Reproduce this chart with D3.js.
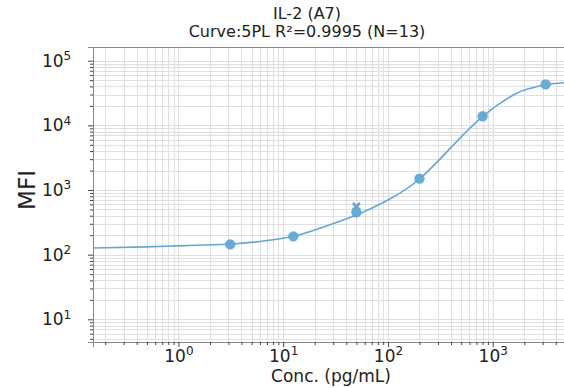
<!DOCTYPE html>
<html><head><meta charset="utf-8">
<script src="https://cdn.jsdelivr.net/npm/d3@7"></script>
<style>
html,body{margin:0;padding:0;background:#fff;}
svg{display:block;font-family:"DejaVu Sans",sans-serif;}
</style></head>
<body>
<svg id="c" width="564" height="388"></svg>
<script>
// ---- data ----
const titleLines = ["IL-2 (A7)", "Curve:5PL R\u00B2=0.9995 (N=13)"];
const xLabel = "Conc. (pg/mL)";
const yLabel = "MFI";
const pointConc = [3.125, 12.5, 50, 200, 800, 3200];
const pointMFI  = [144, 192, 451, 1500, 13800, 43000];
const outlierConc = [50];
const outlierMFI  = [555];
const curveConc = [0.153, 0.5, 1.13, 3.2, 6, 12.5, 25, 50, 100, 200, 420, 800, 1570, 2270, 3300, 4800];
const curveMFI  = [127, 132, 138, 146, 160, 192, 272, 410, 700, 1480, 4950, 13700, 29500, 37300, 42800, 45700];
const xTickExp = [0, 1, 2, 3];
const yTickExp = [1, 2, 3, 4, 5];

const svg = d3.select("#c");
const L = 93, R = 564, T = 47, B = 342;
const col = "#62a8d4";

const x = d3.scaleLog().domain([0.153, 4790]).range([L, R]);
const y = d3.scaleLog().domain([Math.pow(10, 0.649), Math.pow(10, 5.212)]).range([B, T]);

function minors(lo, hi) {
  const out = [];
  for (let e = Math.floor(Math.log10(lo)); e <= Math.ceil(Math.log10(hi)); e++) {
    for (let m = 1; m <= 9; m++) {
      const v = m * Math.pow(10, e);
      if (v >= lo && v <= hi) out.push(v);
    }
  }
  return out;
}
const xAll = minors(x.domain()[0], x.domain()[1]);
const yAll = minors(y.domain()[0], y.domain()[1]);

const plot = svg.append("g");
plot.append("defs").append("clipPath").attr("id", "clip")
  .append("rect").attr("x", L).attr("y", T).attr("width", R - L).attr("height", B - T);

// grid
const grid = plot.append("g").attr("stroke", "#e0e0e0").attr("stroke-width", 1);
grid.selectAll(".gx").data(xAll).join("line")
  .attr("x1", d => Math.round(x(d)) + 0.5).attr("x2", d => Math.round(x(d)) + 0.5)
  .attr("y1", T).attr("y2", B);
grid.selectAll(".gy").data(yAll).join("line")
  .attr("y1", d => Math.round(y(d)) + 0.5).attr("y2", d => Math.round(y(d)) + 0.5)
  .attr("x1", L).attr("x2", R);

// top spine
svg.append("line").attr("x1", L).attr("x2", R).attr("y1", T + 0.5).attr("y2", T + 0.5).attr("stroke", "#888");

function supLabels(g) {
  g.selectAll(".tick text").each(function(d) {
    const t = d3.select(this);
    t.text("10");
    t.append("tspan").attr("dy", "-0.55em").attr("font-size", "12px").text(Math.round(Math.log10(d)));
  });
}

// x axis
const xMajor = xTickExp.map(e => Math.pow(10, e));
const gx = svg.append("g").attr("transform", `translate(0,${B})`)
  .call(d3.axisBottom(x).tickValues(xMajor).tickSize(5).tickPadding(3));
gx.selectAll("text").attr("font-size", "17px").attr("fill", "#222").attr("font-family", "DejaVu Sans");
supLabels(gx);
svg.append("g").attr("transform", `translate(0,${B})`)
  .call(d3.axisBottom(x).tickValues(xAll.filter(v => !xMajor.includes(v))).tickSize(3).tickFormat(""))
  .call(g => g.select(".domain").remove());

// y axis
const yMajor = yTickExp.map(e => Math.pow(10, e));
const gy = svg.append("g").attr("transform", `translate(${L},0)`)
  .call(d3.axisLeft(y).tickValues(yMajor).tickSize(5).tickPadding(4));
gy.selectAll("text").attr("font-size", "17px").attr("fill", "#222").attr("font-family", "DejaVu Sans").attr("dx", "-0.75em");
supLabels(gy);
svg.append("g").attr("transform", `translate(${L},0)`)
  .call(d3.axisLeft(y).tickValues(yAll.filter(v => !yMajor.includes(v))).tickSize(3).tickFormat(""))
  .call(g => g.select(".domain").remove());

svg.selectAll(".domain").attr("stroke", "#888");
svg.selectAll(".tick line").attr("stroke", "#444");

// curve
const curveData = curveConc.map((c, i) => [c, curveMFI[i]]);
plot.append("path").datum(curveData)
  .attr("clip-path", "url(#clip)")
  .attr("fill", "none").attr("stroke", col).attr("stroke-width", 1.6)
  .attr("d", d3.line().x(d => x(d[0])).y(d => y(d[1])).curve(d3.curveNatural));

// outlier X marker
const om = plot.append("g");
outlierConc.forEach((c, i) => {
  const cx = x(c), cy = y(outlierMFI[i]), s = 3.5;
  om.append("path")
    .attr("d", `M${cx - s},${cy - s}L${cx + s},${cy + s}M${cx - s},${cy + s}L${cx + s},${cy - s}`)
    .attr("stroke", col).attr("stroke-width", 2.6).attr("fill", "none");
});

// points
plot.selectAll(".pt").data(pointConc.map((c, i) => [c, pointMFI[i]])).join("circle")
  .attr("cx", d => x(d[0])).attr("cy", d => y(d[1])).attr("r", 5.2)
  .attr("fill", col).attr("fill-opacity", 0.95);

// titles
svg.append("text").attr("x", 307).attr("y", 19).attr("text-anchor", "middle")
  .attr("font-size", "16px").attr("fill", "#222").text(titleLines[0]);
svg.append("text").attr("x", 307).attr("y", 37).attr("text-anchor", "middle")
  .attr("font-size", "16px").attr("fill", "#222").text(titleLines[1]);

svg.append("text").attr("x", 331).attr("y", 382).attr("text-anchor", "middle")
  .attr("font-size", "17px").attr("fill", "#222").text(xLabel);
svg.append("text").attr("transform", "translate(35,190) rotate(-90)").attr("text-anchor", "middle")
  .attr("font-size", "23px").attr("fill", "#222").text(yLabel);
</script>
</body></html>
